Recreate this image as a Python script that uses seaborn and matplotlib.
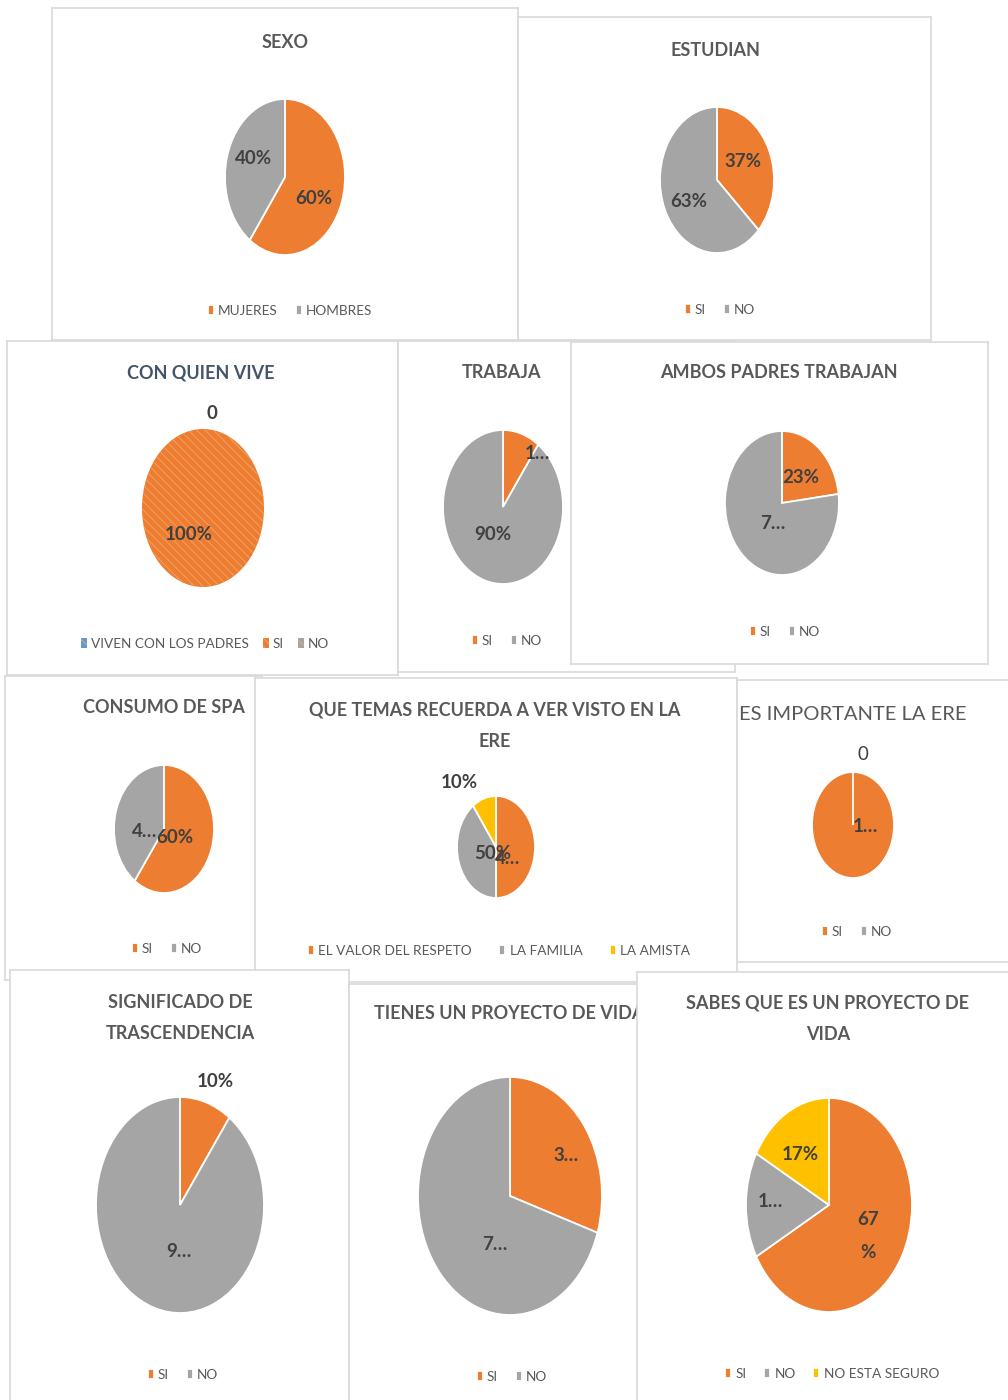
import matplotlib
matplotlib.use("Agg")
import matplotlib.pyplot as plt
import seaborn as sns

sns.set_theme(style="white")
# Lato se parece a Calibri (la fuente de Excel)
plt.rcParams["font.family"] = ["Lato", "DejaVu Sans"]
plt.rcParams["hatch.linewidth"] = 0.6

# colores estilo Excel
NARANJA, GRIS, AMARILLO, AZUL = sns.color_palette(["#ED7D31", "#A5A5A5", "#FFC000", "#5B9BD5"])
TXT = "#595959"
ETQ = "#404040"

# ---- datos de cada encuesta ----
sexo_cat = ["MUJERES", "HOMBRES"]
sexo_val = [60, 40]
sexo_etq = ["60%", "40%"]

estudian_cat = ["SI", "NO"]
estudian_val = [37, 63]
estudian_etq = ["37%", "63%"]

vive_cat = ["VIVEN CON LOS PADRES", "SI", "NO"]
vive_val = [0, 100, 0]
vive_etq = ["0", "100%", ""]

trabaja_cat = ["SI", "NO"]
trabaja_val = [10, 90]
trabaja_etq = ["1…", "90%"]

padres_cat = ["SI", "NO"]
padres_val = [23, 77]
padres_etq = ["23%", "7…"]

spa_cat = ["SI", "NO"]
spa_val = [60, 40]
spa_etq = ["60%", "4…"]

temas_cat = ["EL VALOR DEL RESPETO", "LA FAMILIA", "LA AMISTA"]
temas_val = [50, 40, 10]
temas_etq = ["50%", "4…", "10%"]

ere_cat = ["SI", "NO"]
ere_val = [100, 0]
ere_etq = ["1…", "0"]

trasc_cat = ["SI", "NO"]
trasc_val = [10, 90]
trasc_etq = ["10%", "9…"]

tienes_cat = ["SI", "NO"]
tienes_val = [30, 70]
tienes_etq = ["3…", "7…"]

sabes_cat = ["SI", "NO", "NO ESTA SEGURO"]
sabes_val = [67, 16, 17]
sabes_etq = ["67\n%", "1…", "17%"]

# ---- disposicion (pixeles, y hacia abajo) ----
paneles = [
    dict(titulo="SEXO", cat=sexo_cat, val=sexo_val, etq=sexo_etq, colores=[NARANJA, GRIS],
         caja=(52, 8, 518, 340), tpos=(285, 42), centro=(285, 177), radios=(60, 78),
         epos=[(0.48, -0.27), (-0.53, 0.24)], lpos=(290, 311)),
    dict(titulo="ESTUDIAN", cat=estudian_cat, val=estudian_val, etq=estudian_etq, colores=[NARANJA, GRIS],
         caja=(518, 17, 931, 340), tpos=(716, 50), centro=(717, 180), radios=(57, 73),
         epos=[(0.46, 0.26), (-0.49, -0.30)], lpos=(720, 310)),
    dict(titulo="CON QUIEN VIVE", cat=vive_cat, val=vive_val, etq=vive_etq, colores=[AZUL, NARANJA, GRIS],
         caja=(7, 341, 398, 675), tpos=(201, 373), centro=(203, 508), radios=(61, 79),
         epos=[(0.15, 1.2), (-0.23, -0.33), (0, 1.2)], lpos=(205, 644), tcolor="#44546A",
         rayado=True, colsp=1.0),
    dict(titulo="TRABAJA", cat=trabaja_cat, val=trabaja_val, etq=trabaja_etq, colores=[NARANJA, GRIS],
         caja=(398, 341, 735, 672), tpos=(502, 372), centro=(503, 507), radios=(60, 77),
         epos=[(0.57, 0.70), (-0.17, -0.36)], lpos=(507, 641)),
    dict(titulo="AMBOS PADRES TRABAJAN", cat=padres_cat, val=padres_val, etq=padres_etq, colores=[NARANJA, GRIS],
         caja=(571, 342, 988, 664), tpos=(779, 372), centro=(782, 503), radios=(57, 72),
         epos=[(0.33, 0.35), (-0.16, -0.28)], lpos=(785, 632)),
    dict(titulo="CONSUMO DE SPA", cat=spa_cat, val=spa_val, etq=spa_etq, colores=[NARANJA, GRIS],
         caja=(5, 676, 262, 980), tpos=(164, 707), centro=(164, 829), radios=(50, 64),
         epos=[(0.22, -0.14), (-0.38, -0.04)], lpos=(167, 949)),
    dict(titulo="QUE TEMAS RECUERDA A VER VISTO EN LA\nERE", cat=temas_cat, val=temas_val, etq=temas_etq,
         colores=[NARANJA, GRIS, AMARILLO],
         caja=(255, 678, 737, 982), tpos=(495, 726), centro=(496, 847), radios=(39, 51),
         epos=[(-0.08, -0.12), (0.30, -0.22), (-0.95, 1.27)], lpos=(499, 951), colsp=2.0),
    dict(titulo="ES IMPORTANTE LA ERE", cat=ere_cat, val=ere_val, etq=ere_etq, colores=[NARANJA, GRIS],
         caja=(737, 680, 1015, 962), tpos=(853, 714), centro=(853, 825), radios=(41, 53),
         epos=[(0.30, -0.02), (0.25, 1.33)], lpos=(857, 932),
         tpeso="normal", tsize=14.5, epeso=["bold", "normal"]),
    dict(titulo="SIGNIFICADO DE\nTRASCENDENCIA", cat=trasc_cat, val=trasc_val, etq=trasc_etq, colores=[NARANJA, GRIS],
         caja=(10, 970, 349, 1410), tpos=(180, 1018), centro=(180, 1205), radios=(84, 108),
         epos=[(0.42, 1.14), (-0.01, -0.43)], lpos=(183, 1375)),
    dict(titulo="TIENES UN PROYECTO DE VIDA", cat=tienes_cat, val=tienes_val, etq=tienes_etq, colores=[NARANJA, GRIS],
         caja=(349, 984, 640, 1410), tpos=(509, 1013), centro=(510, 1196), radios=(92, 119),
         epos=[(0.61, 0.34), (-0.17, -0.41)], lpos=(512, 1377)),
    dict(titulo="SABES QUE ES UN PROYECTO DE\nVIDA", cat=sabes_cat, val=sabes_val, etq=sabes_etq,
         colores=[NARANJA, GRIS, AMARILLO],
         caja=(637, 972, 1015, 1410), tpos=(828, 1019), centro=(829, 1205), radios=(83, 107),
         epos=[(0.47, -0.29), (-0.71, 0.03), (-0.35, 0.47)], lpos=(832, 1374)),
]

W, H = 1008, 1400
fig = plt.figure(figsize=(W / 100, H / 100), dpi=100)
fig.patch.set_facecolor("white")


def rect(x0, y0, x1, y1):
    return [x0 / W, 1 - y1 / H, (x1 - x0) / W, (y1 - y0) / H]


for i, p in enumerate(paneles):
    x0, y0, x1, y1 = p["caja"]
    fondo = fig.add_axes(rect(x0, y0, x1, y1), zorder=2 * i)
    fondo.set_xlim(x0, x1)
    fondo.set_ylim(y1, y0)
    fondo.set_xticks([])
    fondo.set_yticks([])
    fondo.set_facecolor("white")
    for s in fondo.spines.values():
        s.set_color("#D9D9D9")
        s.set_linewidth(1.2)

    # titulo
    fondo.text(p["tpos"][0], p["tpos"][1], p["titulo"], ha="center", va="center",
               fontsize=p.get("tsize", 13), fontweight=p.get("tpeso", "bold"),
               color=p.get("tcolor", TXT), linespacing=2.07, clip_on=False)

    # torta (eliptica, como en la captura)
    cx, cy = p["centro"]
    rx, ry = p["radios"]
    m = 1.04
    ax = fig.add_axes(rect(cx - rx * m, cy - ry * m, cx + rx * m, cy + ry * m), zorder=2 * i + 1)
    if p.get("rayado"):
        props = dict(linewidth=0)
    else:
        props = dict(edgecolor="white", linewidth=1.3)
    cunas, _ = ax.pie(p["val"], colors=p["colores"], startangle=90, counterclock=False,
                      wedgeprops=props)
    if p.get("rayado"):
        for c in cunas:
            c.set_hatch("\\\\\\\\")
            c.set_edgecolor("#F6A46A")
    ax.set_aspect("auto")
    ax.set_xlim(-m, m)
    ax.set_ylim(-m, m)
    ax.axis("off")

    pesos = p.get("epeso", ["bold"] * len(p["etq"]))
    for (ex, ey), txt, w in zip(p["epos"], p["etq"], pesos):
        if txt:
            ax.text(ex, ey, txt, ha="center", va="center", fontsize=13.5, fontweight=w,
                    color=ETQ, linespacing=2.2, clip_on=False)

    # leyenda
    fondo.legend(cunas, p["cat"], loc="center", bbox_to_anchor=p["lpos"],
                 bbox_transform=fondo.transData, ncol=len(p["cat"]), frameon=False,
                 fontsize=9.8, labelcolor=TXT, handlelength=0.45, handleheight=0.75,
                 handletextpad=0.3, columnspacing=p.get("colsp", 1.3), borderpad=0)

fig.savefig("out.png", dpi=100, facecolor="white")
